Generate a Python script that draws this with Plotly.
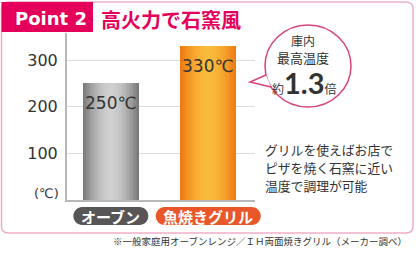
import plotly.graph_objects as go

# ---- data ----
categories = ["オーブン", "魚焼きグリル"]
temps = [250, 330]
value_labels = ["250℃", "330℃"]
y_ticks = [100, 200, 300]
unit_label = "(℃)"
tag_text = "Point 2"
title_text = "高火力で石窯風"
bubble_lines = ["庫内", "最高温度"]
ratio_text = "1.3"
note_lines = ["グリルを使えばお店で", "ピザを焼く石窯に近い", "温度で調理が可能"]
footnote = "※一般家庭用オーブンレンジ／ＩＨ両面焼きグリル（メーカー調べ）"

# ---- style ----
FW, FH = 416, 257
L, R, T, B = 67, 161, 33, 57
PW, PH = FW - L - R, FH - T - B
X_RANGE = [-0.45, 1.48]
Y_RANGE = [0, 358]
MAGENTA = "#e4005a"
TXT = "#333333"
JP = "Noto Sans CJK JP"
edge_cols = ["#7a7a7a", "#ee7a12"]
center_cols = ["#d0d0d0", "#f9bb3c"]
pill_cols = ["#575555", "#e8562a"]
BAR_W = 0.57


def px(x):
    return (x - L) / PW


def py(y):
    return (T + PH - y) / PH


def hex2rgb(h):
    h = h.lstrip("#")
    return [int(h[i:i + 2], 16) for i in (0, 2, 4)]


def mix(c1, c2, t):
    a, b = hex2rgb(c1), hex2rgb(c2)
    return "rgb(%d,%d,%d)" % tuple(round(a[i] + (b[i] - a[i]) * t) for i in range(3))


fig = go.Figure()

# gradient bars: stacked overlays of narrowing bars
N = 20
for k in range(N):
    frac = 1 - k / N
    t = frac ** 1.8
    cols = [mix(center_cols[i], edge_cols[i], t) for i in range(len(temps))]
    fig.add_bar(x=categories, y=temps, width=BAR_W * frac,
                marker=dict(color=cols, line_width=0),
                hoverinfo="skip", showlegend=False)

shapes = []
annotations = []


def note(x, y, text, size, color=TXT, family=JP, xanchor="center", **kw):
    annotations.append(dict(x=x, y=y, xref="paper", yref="paper", xanchor=xanchor, yanchor="middle",
                            showarrow=False, text=text, font=dict(family=family, size=size, color=color),
                            **kw))


# outer frame (pixel offsets relative to plot origin)
def rel(x, y):
    return "%.1f,%.1f" % (x - L, (T + PH) - y)


fx0, fy0, fx1, fy1, rr = 1.5, 2, 413, 233, 7
frame_path = ("M " + rel(fx0 + rr, fy0) + " L " + rel(fx1 - rr, fy0) +
              " Q " + rel(fx1, fy0) + " " + rel(fx1, fy0 + rr) +
              " L " + rel(fx1, fy1 - rr) +
              " Q " + rel(fx1, fy1) + " " + rel(fx1 - rr, fy1) +
              " L " + rel(fx0 + rr, fy1) +
              " Q " + rel(fx0, fy1) + " " + rel(fx0, fy1 - rr) +
              " L " + rel(fx0, fy0 + rr) +
              " Q " + rel(fx0, fy0) + " " + rel(fx0 + rr, fy0) + " Z")
shapes.append(dict(type="path", xref="paper", yref="paper", xsizemode="pixel", ysizemode="pixel",
                   xanchor=0, yanchor=0, path=frame_path,
                   line=dict(color="#f0aec6", width=1.5), fillcolor="rgba(0,0,0,0)", layer="below"))

# title tab
shapes.append(dict(type="rect", xref="paper", yref="paper", x0=px(1.5), x1=px(93), y0=py(2), y1=py(32),
                   fillcolor=MAGENTA, line_width=0))
note(px(51), py(18.5), "<b>" + tag_text + "</b>", 18, color="white", family="DejaVu Sans")
note(px(99), py(20), "<b>" + title_text + "</b>", 20, color=MAGENTA, xanchor="left")

# unit label
note(px(46), py(193), unit_label, 13, family="DejaVu Sans")

# value labels
for c, v, lab in zip(categories, temps, value_labels):
    annotations.append(dict(x=c, y=v, xref="x", yref="y", xanchor="center", yanchor="top", yshift=-8,
                            showarrow=False, text=lab,
                            font=dict(family="DejaVu Sans", size=17, color=TXT)))

# category pills
span = X_RANGE[1] - X_RANGE[0]
pill_y = py(216)
r = 9
for i, c in enumerate(categories):
    xa = (i - X_RANGE[0]) / span
    hw = (len(c) * 15 + 15) / 2
    k = r * 0.552
    path = ("M %.1f,%.1f L %.1f,%.1f C %.1f,%.1f %.1f,%.1f %.1f,0 C %.1f,%.1f %.1f,%.1f %.1f,%.1f "
            "L %.1f,%.1f C %.1f,%.1f %.1f,%.1f %.1f,0 C %.1f,%.1f %.1f,%.1f %.1f,%.1f Z") % (
        -hw + r, r, hw - r, r,
        hw - r + k, r, hw, k, hw,
        hw, -k, hw - r + k, -r, hw - r, -r,
        -hw + r, -r,
        -hw + r - k, -r, -hw, -k, -hw,
        -hw, k, -hw + r - k, r, -hw + r, r)
    shapes.append(dict(type="path", xref="paper", yref="paper", xsizemode="pixel", ysizemode="pixel",
                       xanchor=xa, yanchor=pill_y, path=path, fillcolor=pill_cols[i], line_width=0))
    note(xa, pill_y, "<b>" + c + "</b>", 15, color="white")

# speech bubble
bx, by = 308, 66
shapes.append(dict(type="circle", xref="paper", yref="paper", xsizemode="pixel", ysizemode="pixel",
                   xanchor=px(bx), yanchor=py(by), x0=-43, x1=43, y0=-41, y1=41,
                   fillcolor="white", line=dict(color="#d6447c", width=1.5)))
shapes.append(dict(type="path", xref="paper", yref="paper", xsizemode="pixel", ysizemode="pixel",
                   xanchor=px(bx), yanchor=py(by), path="M -42,-9 L -58,-16 L -37,-21",
                   fillcolor="white", line=dict(color="#d6447c", width=1.5)))
note(px(303), py(40), bubble_lines[0], 12)
note(px(303), py(57.5), bubble_lines[1], 13)
note(px(304), py(82),
     "<span style='font-size:12px'>約</span>"
     "<b style='font-family:Lato;font-size:29px'>" + ratio_text + "</b>"
     "<span style='font-size:12px'>倍</span>", 12)

# note text, one line each
for line, yy in zip(note_lines, [149.5, 167.5, 185.5]):
    note(px(263), py(yy), line, 12.8, xanchor="left")

# footnote
note(px(409), py(241), footnote, 9.5, xanchor="right")

fig.update_layout(
    width=FW, height=FH, autosize=False,
    margin=dict(l=L, r=R, t=T, b=B, pad=0),
    paper_bgcolor="white", plot_bgcolor="white",
    barmode="overlay", bargap=0,
    font=dict(family=JP, color=TXT),
    shapes=shapes, annotations=annotations,
    xaxis=dict(type="category", range=X_RANGE, showticklabels=False, ticks="",
               showgrid=False, zeroline=False, showline=True, linecolor="#b8b8b8", linewidth=2,
               fixedrange=True),
    yaxis=dict(range=Y_RANGE, tickvals=y_ticks, ticks="", showgrid=True, gridcolor="#dcdcdc",
               gridwidth=1, zeroline=False, showline=True, linecolor="#b8b8b8", linewidth=2,
               tickfont=dict(family="DejaVu Sans", size=16, color=TXT), ticklabelstandoff=4,
               fixedrange=True),
)

fig.write_html("out.html", config={"displayModeBar": False})
